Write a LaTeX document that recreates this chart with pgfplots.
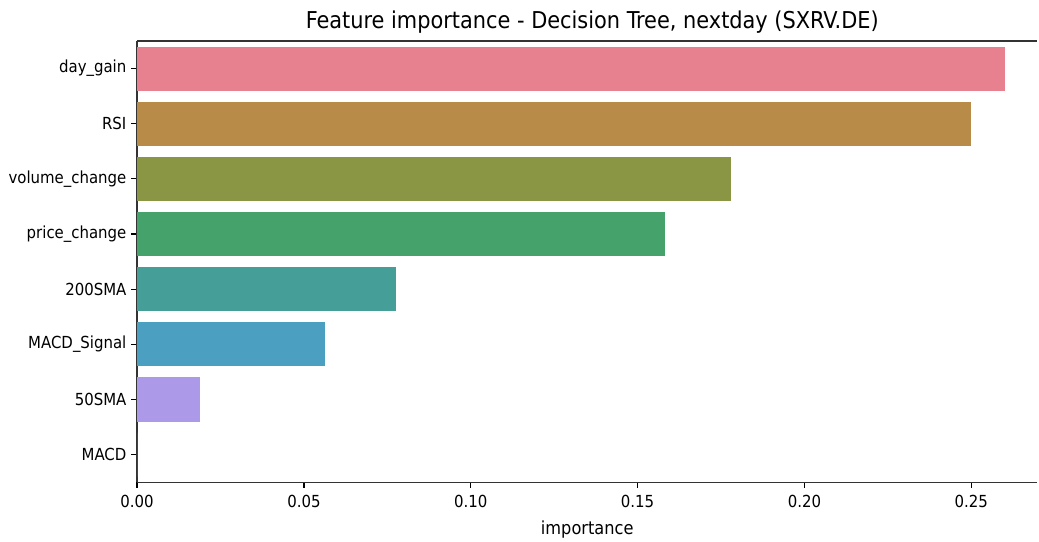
\documentclass[border=0pt]{standalone}
\usepackage{fontspec}
\setmainfont{DejaVu Sans Condensed}
\usepackage{pgfplots}
\pgfplotsset{compat=1.18}

\definecolor{c1}{HTML}{E7808F}
\definecolor{c2}{HTML}{B98B48}
\definecolor{c3}{HTML}{8A9643}
\definecolor{c4}{HTML}{45A26A}
\definecolor{c5}{HTML}{469E98}
\definecolor{c6}{HTML}{4BA0C1}
\definecolor{c7}{HTML}{AC99E8}
\definecolor{c8}{HTML}{D0A0E8}

\begin{document}
\begin{tikzpicture}
\begin{axis}[
    name=ax,
    scale only axis,
    width=450pt, height=220.5pt,
    xbar, bar width=0.8, bar shift=0pt,
    xmin=0, xmax=0.2698,
    ymin=-0.5, ymax=7.5, y dir=reverse,
    ytick={0,...,7},
    yticklabels={day\_gain,RSI,volume\_change,price\_change,200SMA,MACD\_Signal,50SMA,MACD},
    xtick={0,0.05,...,0.25},
    xticklabel style={/pgf/number format/.cd,fixed,fixed zerofill,precision=2,assume math mode=true},
    tick label style={font=\fontsize{8.3}{10}\selectfont},
    yticklabel style={xshift=1pt},
    tick align=outside, tick pos=left,
    major tick length=2.8pt,
    every tick/.style={black, line width=0.6pt},
    axis line style={line width=0.6pt, draw=black!80},
    xlabel={importance},
    xlabel style={font=\fontsize{9}{11}\selectfont, yshift=0pt},
    title={Feature importance - Decision Tree, nextday (SXRV.DE)},
    title style={font=\fontsize{11.6}{13}\selectfont, yshift=-5.5pt, xshift=2.5pt},
    axis x line*=bottom, axis y line*=left,
    clip=false,
]
\addplot[fill=c1, draw=none] coordinates {(0.2600,0)};
\addplot[fill=c2, draw=none] coordinates {(0.2500,1)};
\addplot[fill=c3, draw=none] coordinates {(0.1781,2)};
\addplot[fill=c4, draw=none] coordinates {(0.1583,3)};
\addplot[fill=c5, draw=none] coordinates {(0.0776,4)};
\addplot[fill=c6, draw=none] coordinates {(0.0564,5)};
\addplot[fill=c7, draw=none] coordinates {(0.0189,6)};
\addplot[fill=c8, draw=none] coordinates {(0.0000,7)};
\draw[line width=0.6pt, black!80] (rel axis cs:0,1) -- (rel axis cs:1,1);
\end{axis}
\pgfresetboundingbox
\path ([xshift=-68.5pt,yshift=-29.5pt]ax.south west) rectangle ([xshift=0.8pt,yshift=20.5pt]ax.north east);
\end{tikzpicture}
\end{document}
